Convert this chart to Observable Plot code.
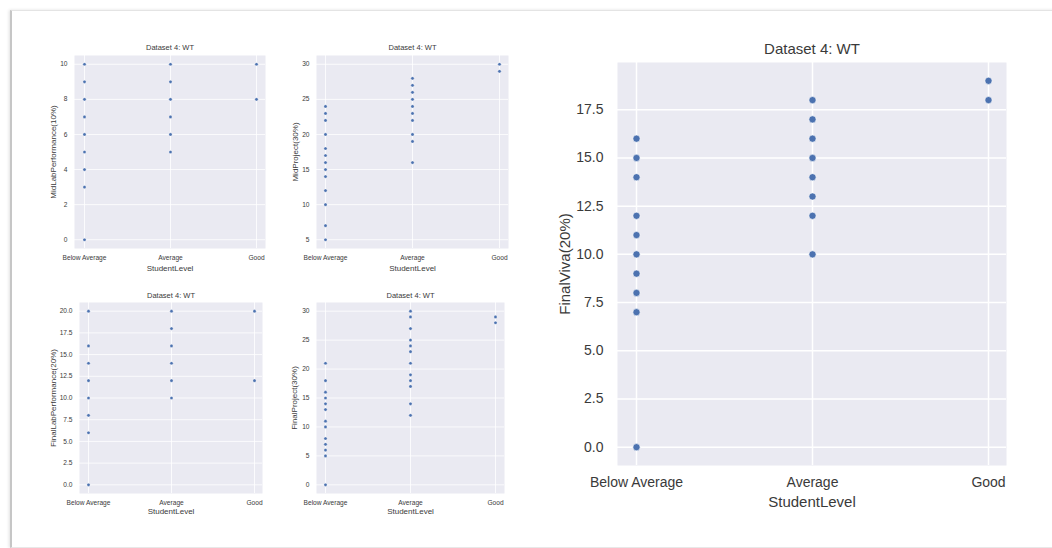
<!DOCTYPE html>
<html>
<head>
<meta charset="utf-8">
<script src="https://cdn.jsdelivr.net/npm/d3@7"></script>
<script src="https://cdn.jsdelivr.net/npm/@observablehq/plot@0.6"></script>
<style>
  html, body { margin: 0; padding: 0; background: #fff; }
  #page { position: relative; width: 1052px; height: 548px; overflow: hidden; font-family: "Liberation Sans", Arial, sans-serif; }
  #card { position: absolute; left: 10px; top: 10px; width: 1060px; height: 536px;
          border-left: 2px solid #c6c6c6; border-top: 1px solid #e4e4e4; border-bottom: 1px solid #e8e8e8;
          box-shadow: -1px 0 3px rgba(0,0,0,0.12); }
  .chart { position: absolute; }
</style>
</head>
<body>
<div id="page"><div id="card"></div></div>
<script>
// Student level categories (x axis of every panel)
const levels = ["Below Average", "Average", "Good"];
const chartTitle = "Dataset 4: WT";
const xLabel = "StudentLevel";

// MidLabPerformance(10%)
const midLabBelow = [10, 9, 8, 7, 6, 5, 4, 3, 0];
const midLabAverage = [10, 9, 8, 7, 6, 5];
const midLabGood = [10, 8];
const midLabTicks = [0, 2, 4, 6, 8, 10];

// MidProject(30%)
const midProjBelow = [24, 23, 22, 20, 18, 17, 16, 15, 14, 12, 10, 7, 5];
const midProjAverage = [28, 27, 26, 25, 24, 23, 22, 20, 19, 16];
const midProjGood = [30, 29];
const midProjTicks = [5, 10, 15, 20, 25, 30];

// FinalLabPerformance(20%)
const finalLabBelow = [20, 16, 14, 12, 10, 8, 6, 0];
const finalLabAverage = [20, 18, 16, 14, 12, 10];
const finalLabGood = [20, 12];
const finalLabTicks = [0, 2.5, 5, 7.5, 10, 12.5, 15, 17.5, 20];

// FinalProject(30%)
const finalProjBelow = [21, 18, 16, 15, 14, 13, 11, 10, 8, 7, 6, 5, 0];
const finalProjAverage = [30, 29, 27, 25, 24, 23, 21, 19, 18, 17, 14, 12];
const finalProjGood = [29, 28];
const finalProjTicks = [0, 5, 10, 15, 20, 25, 30];

// FinalViva(20%)
const vivaBelow = [16, 15, 14, 12, 11, 10, 9, 8, 7, 0];
const vivaAverage = [18, 17, 16, 15, 14, 13, 12, 10];
const vivaGood = [19, 18];
const vivaTicks = [0, 2.5, 5, 7.5, 10, 12.5, 15, 17.5];

const textColor = "#3a3a3a";
const panelFill = "#eaeaf2";
const dotColor = "#4c72b0";

// Matplotlib-style 5% margin around the data range
function padded(series) {
  const all = series.flat();
  const lo = d3.min(all), hi = d3.max(all), m = (hi - lo) * 0.05;
  return [lo - m, hi + m];
}

function scatter(cfg) {
  const rows = levels.flatMap((lvl, i) => cfg.series[i].map(v => ({level: lvl, value: v})));
  const [x0, x1, y0, y1] = cfg.frame;
  const m = cfg.margin;
  const chart = Plot.plot({
    width: (x1 - x0) + m[3] + m[1],
    height: (y1 - y0) + m[0] + m[2],
    marginTop: m[0], marginRight: m[1], marginBottom: m[2], marginLeft: m[3],
    style: {fontFamily: '"Liberation Sans", Arial, sans-serif', color: textColor, background: "transparent", overflow: "visible"},
    x: {type: "point", domain: levels, padding: 0.1, label: null},
    y: {domain: padded(cfg.series), label: null},
    marks: [
      Plot.frame({fill: panelFill, stroke: "none"}),
      Plot.gridX({stroke: "#fff", strokeOpacity: 1, strokeWidth: cfg.grid}),
      Plot.gridY(cfg.ticks, {stroke: "#fff", strokeOpacity: 1, strokeWidth: cfg.grid}),
      Plot.axisX({tickSize: 0, tickPadding: cfg.xPad, fontSize: cfg.tickSize, label: null}),
      Plot.axisY(cfg.ticks, {tickSize: 0, tickPadding: cfg.yPad, fontSize: cfg.tickSize, tickFormat: cfg.format, label: null}),
      Plot.dot(rows, {x: "level", y: "value", r: cfg.r, fill: dotColor, stroke: "#fff", strokeWidth: cfg.edge}),
      Plot.text([chartTitle], {frameAnchor: "top", dy: cfg.titleDy, fontSize: cfg.titleSize,
                               textAnchor: "middle", lineAnchor: "middle"}),
      Plot.text([cfg.yLabel], {frameAnchor: "left", dx: cfg.yLabelDx, rotate: -90, fontSize: cfg.labelSize,
                               textAnchor: "middle", lineAnchor: "middle"}),
      Plot.text([xLabel], {frameAnchor: "bottom", dy: cfg.xLabelDy, fontSize: cfg.labelSize,
                           textAnchor: "middle", lineAnchor: "middle"})
    ]
  });
  const wrap = document.createElement("div");
  wrap.className = "chart";
  wrap.style.left = (x0 - m[3]) + "px";
  wrap.style.top = (y0 - m[0]) + "px";
  wrap.appendChild(chart);
  document.getElementById("page").appendChild(wrap);
}

const small = {margin: [16, 6, 28, 36], grid: 0.8, tickSize: 6.6, labelSize: 8, titleSize: 7.5,
               xPad: 7, yPad: 7, xLabelDy: 20, r: 1.6, edge: 0.3};

scatter({...small, frame: [74, 265, 55, 248], series: [midLabBelow, midLabAverage, midLabGood],
         ticks: midLabTicks, format: d3.format("d"), yLabel: "MidLabPerformance(10%)",
         titleDy: -8, yLabelDx: -21});

scatter({...small, frame: [316, 508, 55, 248], series: [midProjBelow, midProjAverage, midProjGood],
         ticks: midProjTicks, format: d3.format("d"), yLabel: "MidProject(30%)",
         titleDy: -8, yLabelDx: -21});

scatter({...small, frame: [79, 262, 302, 493], series: [finalLabBelow, finalLabAverage, finalLabGood],
         ticks: finalLabTicks, format: d3.format(".1f"), yLabel: "FinalLabPerformance(20%)",
         titleDy: -7, yLabelDx: -26, xLabelDy: 18});

scatter({...small, frame: [316, 504, 302, 493], series: [finalProjBelow, finalProjAverage, finalProjGood],
         ticks: finalProjTicks, format: d3.format("d"), yLabel: "FinalProject(30%)",
         titleDy: -7, yLabelDx: -22, xLabelDy: 18});

scatter({frame: [617, 1006, 62, 465], margin: [30, 10, 50, 72], series: [vivaBelow, vivaAverage, vivaGood],
         ticks: vivaTicks, format: d3.format(".1f"), yLabel: "FinalViva(20%)",
         grid: 1.5, tickSize: 14, labelSize: 15, titleSize: 15, xPad: 12, yPad: 14,
         titleDy: -13, yLabelDx: -52, xLabelDy: 37, r: 3.6, edge: 0.6});
</script>
</body>
</html>
